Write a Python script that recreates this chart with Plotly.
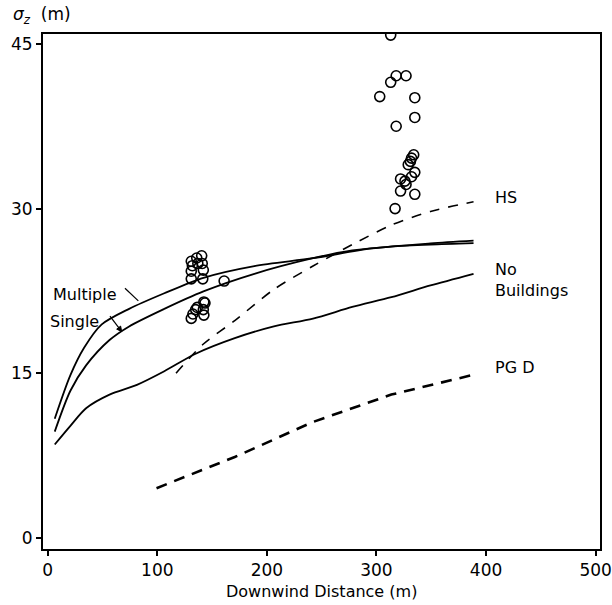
import plotly.graph_objects as go

# Curves (x: downwind distance m, y: sigma_z m)
mult_x = [6.4, 20.7, 33.2, 49.3, 74.3, 106.4, 142.1, 188.6, 242.1, 295.7, 349.3, 388.6]
mult_y = [10.86, 14.83, 17.32, 19.45, 20.87, 22.29, 23.70, 24.77, 25.48, 26.37, 26.83, 27.08]

single_x = [6.4, 20.7, 35.0, 56.4, 74.3, 106.4, 142.1, 188.6, 242.1, 277.9, 313.6, 349.3, 388.6]
single_y = [9.69, 13.41, 15.72, 18.03, 19.27, 20.87, 22.46, 24.06, 25.48, 26.19, 26.54, 26.72, 26.85]

nob_x = [6.4, 20.7, 35.0, 56.4, 81.4, 106.4, 135.0, 170.7, 206.4, 242.1, 277.9, 313.6, 349.3, 388.6]
nob_y = [8.52, 10.22, 11.82, 13.06, 13.95, 15.19, 16.78, 18.20, 19.27, 19.98, 21.04, 21.93, 23.0, 24.06]

hs_x = [117.1, 142.1, 170.7, 206.4, 242.1, 277.9, 313.6, 349.3, 388.6]
hs_y = [15.01, 17.67, 19.80, 22.64, 24.77, 26.72, 28.50, 29.74, 30.62]

pgd_x = [99.3, 170.7, 242.1, 313.6, 390.0]
pgd_y = [4.54, 7.38, 10.57, 13.06, 14.9]

# Observations
obs_x = [131, 132, 131, 131, 136, 137, 140.5, 141, 142, 141.5,
         131, 132.5, 135, 136.5, 142.5, 143.5, 142, 142.5,
         161,
         313, 313, 318, 327, 303, 335, 335, 318, 334, 332, 331, 329, 335, 332,
         322, 326, 327, 322, 335, 317]
obs_y = [25.2, 24.8, 24.3, 23.6, 25.5, 25.0, 25.7, 25.0, 24.4, 23.6,
         20.0, 20.4, 20.8, 21.0, 21.5, 21.4, 20.8, 20.3,
         23.4,
         45.8, 41.5, 42.1, 42.1, 40.2, 40.1, 38.3, 37.5, 34.9, 34.6, 34.3, 34.0, 33.3, 32.9,
         32.7, 32.5, 32.2, 31.6, 31.3, 30.0]

x_ticks = [0, 100, 200, 300, 400, 500]
y_ticks = [0, 15, 30, 45]

FONT = "DejaVu Sans"
fig = go.Figure()
solid = dict(color="black", width=1.8)
fig.add_trace(go.Scatter(x=mult_x, y=mult_y, mode="lines", line=dict(**solid, shape="spline", smoothing=0.8)))
fig.add_trace(go.Scatter(x=single_x, y=single_y, mode="lines", line=dict(**solid, shape="spline", smoothing=0.8)))
fig.add_trace(go.Scatter(x=nob_x, y=nob_y, mode="lines", line=dict(**solid, shape="spline", smoothing=0.8)))
fig.add_trace(go.Scatter(x=hs_x, y=hs_y, mode="lines",
                         line=dict(color="black", width=1.6, dash="10px,9px", shape="spline", smoothing=0.8)))
fig.add_trace(go.Scatter(x=pgd_x, y=pgd_y, mode="lines",
                         line=dict(color="black", width=2.6, dash="11px,8px")))
fig.add_trace(go.Scatter(x=obs_x, y=obs_y, mode="markers",
                         marker=dict(symbol="circle-open", size=10, color="black",
                                     line=dict(width=1.6, color="black"))))

lab_font = dict(family=FONT, size=16, color="black")
anns = [
    dict(x=406, y=31.0, text="HS", xanchor="left"),
    dict(x=406, y=23.5, text="No<br>Buildings", xanchor="left", align="left"),
    dict(x=406, y=15.5, text="PG D", xanchor="left"),
    dict(x=3, y=22.2, text="Multiple", xanchor="left"),
    dict(x=0, y=19.7, text="Single", xanchor="left"),
]
for a in anns:
    fig.add_annotation(xref="x", yref="y", showarrow=False, font=lab_font, yanchor="middle", **a)

# pointer lines
fig.add_shape(type="line", xref="x", yref="y", x0=70.5, y0=22.75, x1=82.7, y1=21.6,
              line=dict(color="black", width=1.2))
fig.add_shape(type="line", xref="x", yref="y", x0=56.8, y0=20.2, x1=66.0, y1=19.0,
              line=dict(color="black", width=1.2))
fig.add_shape(type="path", xref="x", yref="y",
              path="M 67.5,18.8 L 66.54,19.30 L 62.94,19.02 Z",
              fillcolor="black", line=dict(color="black", width=1))

# y-axis label
fig.add_annotation(xref="paper", yref="paper", x=-0.058, y=1.035, xanchor="left", yanchor="middle",
                   text="<i>σ<sub>z</sub></i>  (m)", showarrow=False,
                   font=dict(family=FONT, size=17, color="black"))
# x-axis title
fig.add_annotation(xref="paper", yref="paper", x=0.5, y=-0.083, xanchor="center", yanchor="middle",
                   text="Downwind Distance (m)", showarrow=False,
                   font=dict(family=FONT, size=16, color="black"))

axis_common = dict(showgrid=False, zeroline=False, showline=True, linecolor="black", linewidth=2,
                   mirror=True, ticks="outside", ticklen=5, tickwidth=1.5, tickcolor="black",
                   tickfont=dict(family=FONT, size=17, color="black"), automargin=False)
fig.update_xaxes(range=[-4.3, 504], tickvals=x_ticks, **axis_common)
fig.update_yaxes(range=[-1.0, 45.9], tickvals=y_ticks, **axis_common)

fig.update_layout(width=612, height=605, margin=dict(l=43, r=12, t=34, b=56),
                  paper_bgcolor="white", plot_bgcolor="white", showlegend=False)
fig.write_html("out.html")
